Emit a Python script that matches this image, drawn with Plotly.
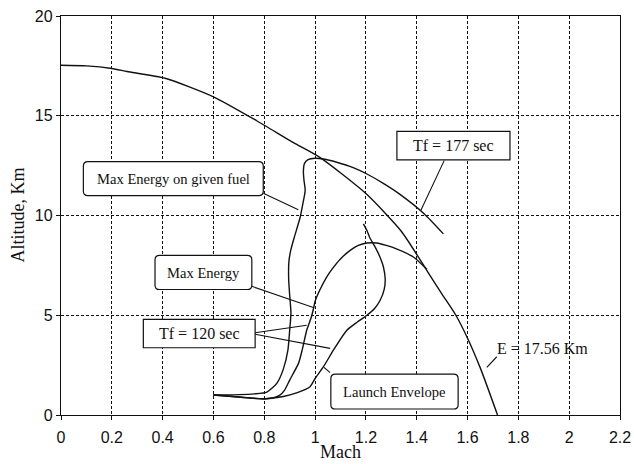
import plotly.graph_objects as go

# ---- curve data (Mach, altitude in km) ----
mach_energy = [0.0, 0.1, 0.2, 0.26, 0.41, 0.6, 0.77, 0.915, 1.02, 1.2, 1.34, 1.442, 1.50, 1.554, 1.6, 1.652, 1.718]
alt_energy = [17.53, 17.5, 17.37, 17.22, 16.88, 15.95, 14.75, 13.65, 12.9, 11.1, 9.2, 7.2, 6.05, 5.0, 3.85, 2.3, 0.0]

mach_fuel = [0.60, 0.70, 0.76, 0.81, 0.85, 0.875, 0.893, 0.90, 0.905, 0.900, 0.896, 0.897, 0.905,
             0.918, 0.941, 0.952, 0.961, 0.956, 0.954, 0.958, 0.972, 1.0, 1.033, 1.085, 1.15,
             1.204, 1.27, 1.33, 1.43, 1.505]
alt_fuel = [1.00, 1.02, 1.06, 1.15, 1.6, 2.3, 3.25, 4.25, 5.1, 6.0, 6.8, 7.7, 8.3,
            8.9, 9.9, 10.6, 11.25, 11.8, 12.2, 12.6, 12.8, 12.87, 12.83, 12.67, 12.4,
            12.08, 11.6, 11.1, 10.08, 9.08]

mach_maxe = [0.60, 0.70, 0.78, 0.83, 0.86, 0.88, 0.90, 0.935, 0.95, 0.967, 0.985, 0.995, 1.0,
             1.02, 1.046, 1.066, 1.098, 1.138, 1.17, 1.204, 1.243, 1.28, 1.32, 1.387, 1.44]
alt_maxe = [1.00, 0.90, 0.82, 0.84, 0.98, 1.25, 1.75, 2.6, 3.3, 4.25, 4.9, 5.4, 5.7,
            6.3, 6.92, 7.3, 7.8, 8.25, 8.5, 8.62, 8.62, 8.5, 8.33, 7.92, 7.3]

mach_launch = [0.60, 0.70, 0.80, 0.83, 0.875, 0.93, 0.98, 1.0, 1.033, 1.072, 1.125, 1.165, 1.204,
               1.235, 1.256, 1.272, 1.276, 1.269, 1.256, 1.235, 1.215, 1.204, 1.19]
alt_launch = [1.00, 0.90, 0.80, 0.85, 0.93, 1.12, 1.42, 1.83, 2.42, 3.25, 4.25, 4.65, 5.0,
              5.35, 5.75, 6.3, 6.8, 7.42, 7.9, 8.45, 8.9, 9.25, 9.58]

x_ticks = [0, 0.2, 0.4, 0.6, 0.8, 1.0, 1.2, 1.4, 1.6, 1.8, 2.0, 2.2]
x_tick_labels = ["0", "0.2", "0.4", "0.6", "0.8", "1", "1.2", "1.4", "1.6", "1.8", "2", "2.2"]
y_ticks = [0, 5, 10, 15, 20]
y_tick_labels = ["0", "5", "10", "15", "20"]

INK = "#111111"
SERIF = "Liberation Serif, Times New Roman, serif"
SANS = "Liberation Sans, Arial, sans-serif"

fig = go.Figure()
for xs, ys in [(mach_energy, alt_energy), (mach_fuel, alt_fuel),
               (mach_maxe, alt_maxe), (mach_launch, alt_launch)]:
    fig.add_trace(go.Scatter(x=xs, y=ys, mode="lines", showlegend=False,
                             line=dict(color=INK, width=1.4, shape="spline", smoothing=0.6)))


def rounded_box(x0, y0, x1, y1, rx=0.018, ry=0.22):
    return (f"M {x0+rx},{y0} L {x1-rx},{y0} Q {x1},{y0} {x1},{y0+ry} "
            f"L {x1},{y1-ry} Q {x1},{y1} {x1-rx},{y1} L {x0+rx},{y1} "
            f"Q {x0},{y1} {x0},{y1-ry} L {x0},{y0+ry} Q {x0},{y0} {x0+rx},{y0} Z")


# label boxes: (x0, y0, x1, y1, rounded)
boxes = [
    (0.088, 11.0, 0.796, 12.7, True),
    (1.322, 12.79, 1.767, 14.22, False),
    (0.370, 6.29, 0.751, 8.0, True),
    (0.324, 3.37, 0.764, 4.79, False),
    (1.062, 0.30, 1.563, 2.05, True),
]
shapes = []
for x0, y0, x1, y1, rnd in boxes:
    if rnd:
        shapes.append(dict(type="path", xref="x", yref="y", path=rounded_box(x0, y0, x1, y1),
                           line=dict(color=INK, width=1.2), fillcolor="white", layer="above"))
    else:
        shapes.append(dict(type="rect", xref="x", yref="y", x0=x0, y0=y0, x1=x1, y1=y1,
                           line=dict(color=INK, width=1.2), fillcolor="white", layer="above"))

# leader lines from labels to curves
leaders = [
    (0.796, 11.12, 0.934, 10.29),
    (1.508, 12.75, 1.416, 10.25),
    (0.751, 6.45, 0.993, 5.39),
    (0.764, 4.12, 0.967, 4.5),
    (0.764, 4.05, 1.059, 3.34),
    (1.059, 2.12, 1.035, 2.39),
    (1.715, 2.92, 1.676, 2.39),
]
for x0, y0, x1, y1 in leaders:
    shapes.append(dict(type="line", xref="x", yref="y", x0=x0, y0=y0, x1=x1, y1=y1,
                       line=dict(color=INK, width=1.1), layer="above"))

labels = [
    ("Max Energy on given fuel", 0.442, 11.85, 14.6),
    ("Tf = 177 sec", 1.544, 13.5, 16),
    ("Max Energy", 0.56, 7.14, 14.6),
    ("Tf = 120 sec", 0.544, 4.08, 16),
    ("Launch Envelope", 1.312, 1.17, 14.6),
    ("E = 17.56 Km", 1.894, 3.33, 16),
]
annotations = [dict(text=t, x=x, y=y, xref="x", yref="y", showarrow=False,
                    font=dict(family=SERIF, size=s, color=INK)) for t, x, y, s in labels]

# axis titles placed relative to the plot area
annotations.append(dict(text="Mach", x=0.5, y=0, xref="paper", yref="paper",
                        yanchor="middle", yshift=-37, showarrow=False,
                        font=dict(family=SERIF, size=18, color=INK)))
annotations.append(dict(text="Altitude, Km", x=0, y=0.5, xref="paper", yref="paper",
                        xanchor="center", xshift=-44, textangle=-90, showarrow=False,
                        font=dict(family=SERIF, size=18, color=INK)))

axis_common = dict(showgrid=True, gridcolor=INK, griddash="3px,2px", gridwidth=1,
                   zeroline=False, showline=True, linecolor=INK, linewidth=1.4, mirror=True,
                   ticks="outside", ticklen=4, tickcolor=INK, automargin=False,
                   tickfont=dict(family=SANS, size=16, color=INK))

fig.update_layout(
    width=634, height=464,
    margin=dict(l=61, r=14, t=16, b=49),
    paper_bgcolor="white", plot_bgcolor="white",
    shapes=shapes, annotations=annotations,
    xaxis=dict(range=[0, 2.2], tickmode="array", tickvals=x_ticks, ticktext=x_tick_labels,
               ticklabelstandoff=4, **axis_common),
    yaxis=dict(range=[0, 20], tickmode="array", tickvals=y_ticks, ticktext=y_tick_labels,
               **axis_common),
)

fig.write_html("out.html")
